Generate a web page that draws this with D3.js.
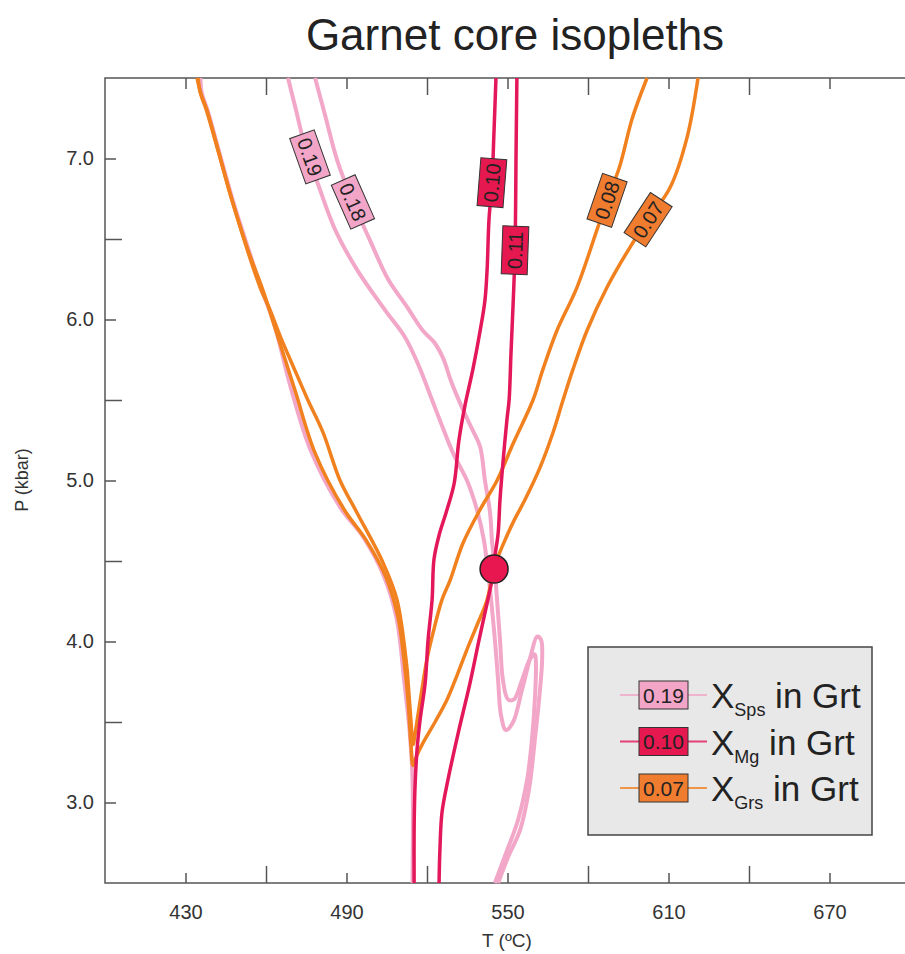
<!DOCTYPE html>
<html>
<head>
<meta charset="utf-8">
<script src="https://cdn.jsdelivr.net/npm/d3@7"></script>
<style>
  body { margin: 0; background: #fff; }
  text { font-family: "Liberation Sans", Arial, sans-serif; }
</style>
</head>
<body>
<svg id="chart" width="905" height="954"></svg>
<script>
// Isopleths, each point is [T (ºC), P (kbar)]

// X Sps in garnet
var sps019 = [[468.2,7.50],[471.2,7.30],[474.9,7.05],[479.4,6.84],[485.7,6.56],[493.9,6.31],[504.3,6.06],
  [511.8,5.89],[517.0,5.71],[521.9,5.50],[525.6,5.34],[529.7,5.17],[534.9,5.00],[538.6,4.82],[541.2,4.63],
  [542.7,4.44],[543.9,4.26],[545.3,4.01],[546.5,3.76],[547.6,3.54],[549.4,3.45],[552.1,3.50],[555.4,3.70],
  [558.8,3.92],[561.0,4.03],[562.5,4.01],[562.9,3.89],[562.1,3.70],[560.2,3.39],[558.0,3.08],[554.7,2.83],
  [550.2,2.66],[546.5,2.50]];
var sps018 = [[478.3,7.50],[482.0,7.27],[486.5,6.99],[492.4,6.73],[498.8,6.49],[505.5,6.25],[512.5,6.08],
  [518.5,5.93],[522.6,5.86],[526.0,5.76],[528.9,5.62],[533.4,5.44],[537.1,5.31],[539.8,5.21],[541.6,5.00],
  [543.5,4.80],[544.2,4.63],[545.3,4.44],[546.1,4.26],[547.2,4.01],[548.3,3.76],[550.2,3.64],[552.4,3.64],
  [555.4,3.76],[558.4,3.89],[560.2,3.92],[560.6,3.85],[560.2,3.64],[559.1,3.39],[557.3,3.14],[553.9,2.89],
  [549.1,2.67],[545.3,2.50]];
var spsLow = [[435.6,7.50],[436.0,7.41],[438.2,7.30],[442.4,7.05],[448.0,6.72],[453.6,6.43],[458.1,6.20],
  [462.9,5.98],[469.2,5.58],[476.6,5.19],[487.8,4.83],[496.2,4.65],[503.6,4.42],[508.6,4.15],[511.6,3.74],
  [513.6,3.43],[514.6,3.14],[514.6,2.50]];

// X Mg in garnet
var mg010 = [[545.7,7.50],[545.0,7.18],[544.2,6.85],[543.1,6.62],[542.4,6.31],[541.6,6.12],[539.8,5.93],
  [537.1,5.69],[534.2,5.47],[531.9,5.25],[530.1,4.98],[527.1,4.80],[524.5,4.66],[522.6,4.51],[521.9,4.26],
  [520.4,4.01],[519.3,3.74],[517.4,3.51],[516.3,3.33],[515.5,3.08],[515.2,2.83],[515.2,2.50]];
var mg011 = [[553.5,7.50],[553.2,7.05],[552.8,6.43],[552.1,6.10],[551.3,5.79],[550.6,5.50],[549.8,5.38],
  [548.3,5.11],[547.2,4.88],[546.5,4.67],[545.3,4.53],[544.2,4.38],[542.7,4.26],[539.4,4.01],[536.0,3.74],
  [531.6,3.43],[527.8,3.14],[525.6,2.94],[524.8,2.70],[524.5,2.50]];

// X Grs in garnet
var grs008 = [[602.0,7.50],[596.5,7.25],[591.8,6.95],[587.1,6.74],[583.4,6.56],[575.9,6.20],[568.4,5.93],
  [563.2,5.69],[559.5,5.50],[552.1,5.23],[546.1,5.00],[539.8,4.82],[533.4,4.61],[528.6,4.38],[525.6,4.26],
  [522.2,4.05],[520.0,3.89],[518.1,3.70],[516.6,3.54],[515.5,3.42],[514.8,3.36],[514.0,3.51],[512.9,3.76],
  [512.5,3.84],[508.8,4.26],[503.6,4.49],[493.9,4.80],[487.6,5.00],[481.2,5.30],[475.6,5.50],[470.1,5.71],
  [465.2,5.90],[461.5,6.06],[457.8,6.20],[447.7,6.72],[438.0,7.30],[435.6,7.41],[434.3,7.50]];
var grs007 = [[621.0,7.50],[616.9,7.13],[610.6,6.82],[602.4,6.62],[595.7,6.45],[587.1,6.20],[579.6,5.93],
  [574.4,5.69],[570.7,5.50],[567.0,5.30],[562.1,5.08],[556.5,4.88],[552.1,4.74],[548.3,4.60],[545.0,4.46],
  [542.4,4.26],[538.6,4.10],[534.9,3.95],[531.2,3.79],[527.5,3.64],[523.0,3.50],[518.5,3.37],[515.9,3.28],
  [514.8,3.23],[514.0,3.36],[512.9,3.64],[511.4,3.89],[509.2,4.15],[504.7,4.40],[497.3,4.63],[489.1,4.82],
  [478.3,5.17],[470.8,5.56],[463.7,5.93],[458.9,6.18],[453.3,6.43],[447.7,6.72],[442.1,7.05],[437.8,7.30],
  [435.5,7.41],[434.7,7.50]];

// isopleth labels: text and [T, P] of the label
var isoLabels = ['0.19', '0.18', '0.10', '0.11', '0.08', '0.07'];
var isoLabelPos = [[476.4,7.01],[492.4,6.73],[544.2,6.85],[552.8,6.43],[587.1,6.74],[602.4,6.62]];

// estimated core P-T point
var coreT = [545.0];
var coreP = [4.45];

// axis ticks
var tMajor = [430, 490, 550, 610, 670];
var tMinor = [460, 520, 580, 640];
var pMajor = [3, 4, 5, 6, 7];
var pMinor = [3.5, 4.5, 5.5, 6.5];

// legend
var legendValues = ['0.19', '0.10', '0.07'];
var legendSubs = ['Sps', 'Mg', 'Grs'];

var pink = '#f3a7c8', crimson = '#e3175a', orange = '#f1811f';
var pinkBox = '#f2a5c7', crimsonBox = '#e5184f', orangeBox = '#f07c30';

var svg = d3.select('#chart');
var plotLeft = 105, plotTop = 78, size = 805;

var x = d3.scaleLinear().domain([400, 700]).range([plotLeft, plotLeft + size]);
var y = d3.scaleLinear().domain([2.5, 7.5]).range([plotTop + size, plotTop]);

// title
svg.append('text')
   .attr('x', 515).attr('y', 50)
   .attr('text-anchor', 'middle')
   .style('font-size', '44px')
   .style('fill', '#222')
   .text('Garnet core isopleths');

// axes (ticks point inwards, labelled ticks are shorter)
var axisStyle = function(g) {
  g.select('.domain').remove();
  g.selectAll('line').style('stroke', '#555').style('stroke-width', 1.5);
  g.selectAll('text').style('font-size', '20px').style('fill', '#333')
   .style('font-family', '"Liberation Sans", Arial, sans-serif');
};

svg.append('g').attr('transform', 'translate(0,' + (plotTop + size) + ')')
   .call(d3.axisBottom(x).tickValues(tMajor).tickSize(-10).tickPadding(22).tickFormat(d3.format('d')))
   .call(axisStyle);
svg.append('g').attr('transform', 'translate(0,' + (plotTop + size) + ')')
   .call(d3.axisBottom(x).tickValues(tMinor).tickSize(-17).tickFormat(''))
   .call(axisStyle);
svg.append('g').attr('transform', 'translate(0,' + plotTop + ')')
   .call(d3.axisTop(x).tickValues(tMajor).tickSize(-11).tickFormat(''))
   .call(axisStyle);
svg.append('g').attr('transform', 'translate(0,' + plotTop + ')')
   .call(d3.axisTop(x).tickValues(tMinor).tickSize(-17).tickFormat(''))
   .call(axisStyle);
svg.append('g').attr('transform', 'translate(' + plotLeft + ',0)')
   .call(d3.axisLeft(y).tickValues(pMajor).tickSize(-11).tickPadding(11).tickFormat(d3.format('.1f')))
   .call(axisStyle);
svg.append('g').attr('transform', 'translate(' + plotLeft + ',0)')
   .call(d3.axisLeft(y).tickValues(pMinor).tickSize(-17).tickFormat(''))
   .call(axisStyle);

svg.append('rect')
   .attr('x', plotLeft).attr('y', plotTop).attr('width', size).attr('height', size)
   .style('fill', 'none').style('stroke', '#555').style('stroke-width', 1.5);

// axis titles
svg.append('text')
   .attr('x', 507).attr('y', 947)
   .attr('text-anchor', 'middle')
   .style('font-size', '19px').style('fill', '#333')
   .text('T (ºC)');
svg.append('text')
   .attr('transform', 'translate(28,480) rotate(-90)')
   .attr('text-anchor', 'middle')
   .style('font-size', '18px').style('fill', '#333')
   .text('P (kbar)');

// isopleth lines
var plot = svg.append('g');
var line = d3.line()
             .x(function(d) { return x(d[0]); })
             .y(function(d) { return y(d[1]); })
             .curve(d3.curveCatmullRom.alpha(0.5));

var series = [
  {data: spsLow, color: pink, w: 4},
  {data: sps019, color: pink, w: 4},
  {data: sps018, color: pink, w: 4},
  {data: grs008, color: orange, w: 3.5},
  {data: grs007, color: orange, w: 3.5},
  {data: mg010, color: crimson, w: 3.5},
  {data: mg011, color: crimson, w: 3.5}
];

plot.selectAll('path.iso')
    .data(series)
    .enter()
    .append('path')
    .attr('class', 'iso')
    .attr('d', function(d) { return line(d.data); })
    .style('fill', 'none')
    .style('stroke', function(d) { return d.color; })
    .style('stroke-width', function(d) { return d.w; })
    .style('stroke-linejoin', 'round');

// labels sit on their line, rotated along it
var labelLines = [sps019, sps018, mg010, mg011, grs008, grs007];
var labelFills = [pinkBox, pinkBox, crimsonBox, crimsonBox, orangeBox, orangeBox];

var lineAngle = function(data, pos) {
  var px = x(pos[0]), py = y(pos[1]);
  var best = 0, bestD = Infinity;
  for (var i = 0; i < data.length - 1; i++) {
    var mx = (x(data[i][0]) + x(data[i + 1][0])) / 2;
    var my = (y(data[i][1]) + y(data[i + 1][1])) / 2;
    var dd = (mx - px) * (mx - px) + (my - py) * (my - py);
    if (dd < bestD) { bestD = dd; best = i; }
  }
  var a = Math.atan2(y(data[best + 1][1]) - y(data[best][1]), x(data[best + 1][0]) - x(data[best][0])) * 180 / Math.PI;
  while (a >= 90) a -= 180;
  while (a < -90) a += 180;
  return a;
};

var labels = plot.selectAll('g.lbl')
    .data(isoLabels)
    .enter()
    .append('g')
    .attr('class', 'lbl')
    .attr('transform', function(d, i) {
      return 'translate(' + x(isoLabelPos[i][0]) + ',' + y(isoLabelPos[i][1]) + ') rotate(' +
             lineAngle(labelLines[i], isoLabelPos[i]) + ')';
    });
labels.append('rect')
      .attr('x', -24).attr('y', -13).attr('width', 48).attr('height', 26)
      .style('fill', function(d, i) { return labelFills[i]; })
      .style('stroke', '#333').style('stroke-width', 1);
labels.append('text')
      .attr('text-anchor', 'middle')
      .attr('dy', '0.36em')
      .style('font-size', '20px').style('fill', '#222')
      .text(function(d) { return d; });

// core point
plot.selectAll('circle.core')
    .data(coreT)
    .enter()
    .append('circle')
    .attr('class', 'core')
    .attr('cx', function(d) { return x(d); })
    .attr('cy', function(d, i) { return y(coreP[i]); })
    .attr('r', 14)
    .style('fill', '#e8174f')
    .style('stroke', '#222').style('stroke-width', 1.5);

// legend
var legend = svg.append('g').attr('transform', 'translate(588,647)');
legend.append('rect')
      .attr('width', 284).attr('height', 188)
      .style('fill', '#e8e8e8').style('stroke', '#444').style('stroke-width', 1.5);

var legendLine = [pink, crimson, orange];
var legendFill = [pinkBox, crimsonBox, orangeBox];

var rows = legend.selectAll('g.row')
    .data(legendValues)
    .enter()
    .append('g')
    .attr('class', 'row')
    .attr('transform', function(d, i) { return 'translate(0,' + (48 + i * 46.5) + ')'; });
rows.append('line')
    .attr('x1', 32).attr('x2', 119)
    .style('stroke', function(d, i) { return legendLine[i]; })
    .style('stroke-width', 2).style('opacity', 0.8);
rows.append('rect')
    .attr('x', 51).attr('y', -14).attr('width', 49).attr('height', 28)
    .style('fill', function(d, i) { return legendFill[i]; })
    .style('stroke', '#333').style('stroke-width', 1);
rows.append('text')
    .attr('x', 75.5).attr('dy', '0.36em')
    .attr('text-anchor', 'middle')
    .style('font-size', '21px').style('fill', '#222')
    .text(function(d) { return d; });
var lt = rows.append('text')
    .attr('x', 123).attr('y', 13)
    .style('font-size', '35px').style('fill', '#222');
lt.append('tspan').text('X');
lt.append('tspan').attr('dy', 8).style('font-size', '18px')
  .text(function(d, i) { return legendSubs[i]; });
lt.append('tspan').attr('dy', -8).text(' in Grt');
</script>
</body>
</html>
